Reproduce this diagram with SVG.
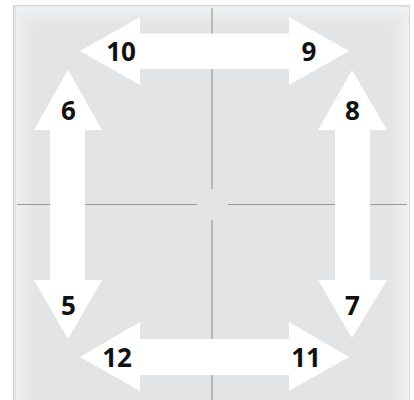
<svg xmlns="http://www.w3.org/2000/svg" width="414" height="400" viewBox="0 0 414 400">
<defs>
<style>
.arrow{fill:#ffffff}
.lbl{font-family:"Open Sans","Noto Sans","Liberation Sans",sans-serif;font-weight:700;font-size:26px;fill:#111111;text-anchor:middle}
.cross{stroke:#9a9a9a;stroke-width:1.2;fill:none}
</style>
<linearGradient id="gl" x1="0" y1="0" x2="1" y2="0">
<stop offset="0" stop-color="#f1f2f3"/>
<stop offset="1" stop-color="#e2e4e6" stop-opacity="0"/>
</linearGradient>
<linearGradient id="gr" x1="1" y1="0" x2="0" y2="0">
<stop offset="0" stop-color="#f1f2f3"/>
<stop offset="1" stop-color="#e2e4e6" stop-opacity="0"/>
</linearGradient>
<linearGradient id="gt" x1="0" y1="0" x2="0" y2="1">
<stop offset="0" stop-color="#f1f2f3"/>
<stop offset="1" stop-color="#e2e4e6" stop-opacity="0"/>
</linearGradient>
</defs>
<rect x="0" y="0" width="414" height="400" fill="#ffffff"/>
<g id="panel">
<rect x="13" y="5" width="397" height="395" fill="#e2e4e6"/>
<rect x="15" y="7" width="26" height="393" fill="url(#gl)"/>
<rect x="384" y="7" width="25" height="393" fill="url(#gr)"/>
<rect x="15" y="7" width="394" height="26" fill="url(#gt)"/>
<rect x="13.5" y="5.5" width="396" height="395" fill="none" stroke="#d4d6d8" stroke-width="1"/>
<line x1="15.5" y1="6" x2="15.5" y2="400" stroke="#e0e2e4" stroke-width="1"/>
</g>
<g id="connectors">
<line class="cross" x1="212" y1="8" x2="212" y2="189"/>
<line class="cross" x1="212" y1="220" x2="212" y2="400"/>
<line class="cross" x1="17" y1="204.5" x2="197" y2="204.5"/>
<line class="cross" x1="228" y1="204.5" x2="407" y2="204.5"/>
</g>
<g id="arrow-top">
<polygon class="arrow" points="80,51 140,17 140,33.5 289,33.5 289,17 349,51 289,85 289,69 140,69 140,85"/>
<text class="lbl" x="121" y="61">10</text>
<text class="lbl" x="309" y="61">9</text>
</g>
<g id="arrow-bottom">
<polygon class="arrow" points="80,357 140,322 140,339 289,339 289,322 349,357 289,391 289,375 140,375 140,391"/>
<text class="lbl" x="117" y="367">12</text>
<text class="lbl" x="306" y="367">11</text>
</g>
<g id="arrow-left">
<polygon class="arrow" points="68,70 102,130 85,130 85,280 102,280 68,339 34,280 50,280 50,130 34,130"/>
<text class="lbl" x="68.5" y="120">6</text>
<text class="lbl" x="68.5" y="315">5</text>
</g>
<g id="arrow-right">
<polygon class="arrow" points="352,70 387,130 370,130 370,280 387,280 352,338 318,280 335,280 335,130 318,130"/>
<text class="lbl" x="352.5" y="120">8</text>
<text class="lbl" x="352.5" y="315">7</text>
</g>
</svg>
